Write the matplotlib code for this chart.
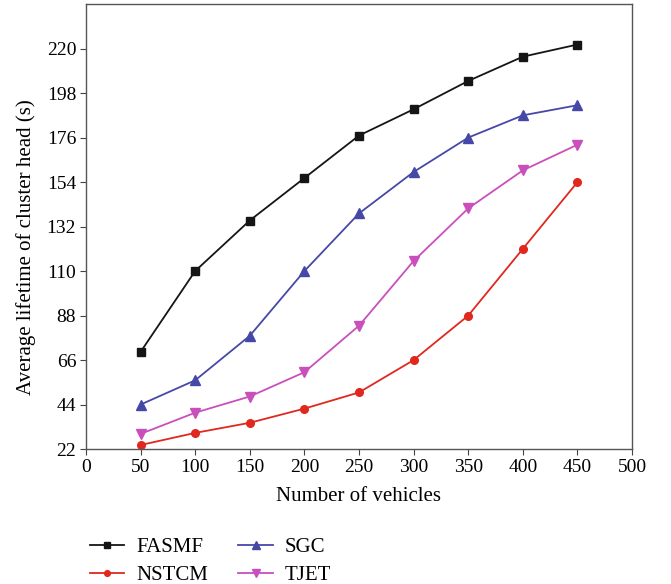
import matplotlib
matplotlib.use("Agg")
import matplotlib.pyplot as plt

plt.rcParams['font.family'] = ['Liberation Serif', 'DejaVu Serif']

vehicles = [50, 100, 150, 200, 250, 300, 350, 400, 450]
fasmf = [70, 110, 135, 156, 177, 190, 204, 216, 222]
nstcm = [24, 30, 35, 42, 50, 66, 88, 121, 154]
sgc = [44, 56, 78, 110, 138.5, 159, 176, 187, 192]
tjet = [29.5, 40, 48, 60, 83, 115, 141, 159.8, 172.5]

x_ticks = [0, 50, 100, 150, 200, 250, 300, 350, 400, 450, 500]
y_ticks = [22, 44, 66, 88, 110, 132, 154, 176, 198, 220]

fig = plt.figure(figsize=(6.71, 5.84), dpi=100)
ax = fig.add_axes([0.128, 0.231, 0.814, 0.762])

ax.plot(vehicles, fasmf, color='#151515', marker='s', ms=6, lw=1.3, label='FASMF')
ax.plot(vehicles, nstcm, color='#e0281e', marker='o', ms=5.5, lw=1.3, label='NSTCM')
ax.plot(vehicles, sgc, color='#4648a8', marker='^', ms=7, lw=1.3, label='SGC')
ax.plot(vehicles, tjet, color='#c94fbd', marker='v', ms=7, lw=1.3, label='TJET')

ax.set_xlim(0, 500)
ax.set_ylim(22, 242)
ax.set_xticks(x_ticks)
ax.set_yticks(y_ticks)
ax.tick_params(labelsize=14, direction='out', length=4, color='#444444', pad=3)
for s in ax.spines.values():
    s.set_color('#555555')
    s.set_linewidth(1.0)

ax.set_xlabel('Number of vehicles', fontsize=15, labelpad=8)
ax.set_ylabel('Average lifetime of cluster head (s)', fontsize=15)
ax.yaxis.set_label_coords(-0.092, 0.453)

fig.legend(loc='lower left', bbox_to_anchor=(0.106, -0.034), ncol=2, frameon=False,
           fontsize=15, handlelength=1.65, columnspacing=1.45, labelspacing=0.4,
           handletextpad=0.58, markerscale=0.75)

fig.savefig('out.png', dpi=100)
